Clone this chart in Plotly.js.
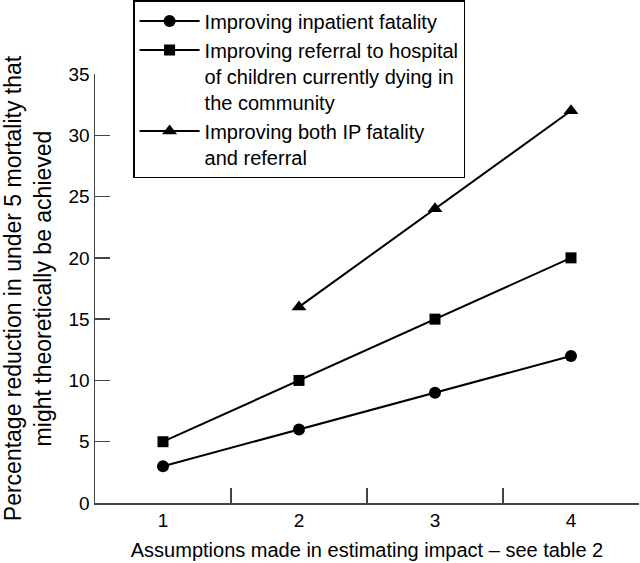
<!DOCTYPE html>
<html>
<head>
<meta charset="utf-8">
<script src="https://cdn.plot.ly/plotly-3.0.1.min.js"></script>
<style>html,body{margin:0;padding:0;background:#fff;}#chart{width:640px;height:563px;}</style>
</head>
<body>
<div id="chart"></div>
<script>
var categories = ['1', '2', '3', '4'];
var inpatientFatality = [3, 6, 9, 12];
var referral = [5, 10, 15, 20];
var bothCategories = ['2', '3', '4'];
var both = [16, 24, 32];
var seriesNames = [
  'Improving inpatient fatality',
  'Improving referral to hospital<br>of children currently dying in<br>the community',
  'Improving both IP fatality<br>and referral'
];
var yTickVals = [0, 5, 10, 15, 20, 25, 30, 35];

var family = 'Liberation Sans, Arial, sans-serif';
var font = {family: family, size: 20, color: '#000'};
var tickFont = {family: family, size: 19, color: '#000'};
var yTitleFont = {family: family, size: 23, color: '#000'};
var traces = [
  {x: categories, y: inpatientFatality, name: seriesNames[0], mode: 'lines+markers', type: 'scatter',
   line: {color: '#000', width: 2}, marker: {symbol: 'circle', size: 12, color: '#000'}},
  {x: categories, y: referral, name: seriesNames[1], mode: 'lines+markers', type: 'scatter',
   line: {color: '#000', width: 2}, marker: {symbol: 'square', size: 11, color: '#000'}},
  {x: bothCategories, y: both, name: seriesNames[2], mode: 'lines+markers', type: 'scatter',
   line: {color: '#000', width: 2}, marker: {symbol: 'triangle-up', size: 13, color: '#000'}}
];
var layout = {
  width: 640, height: 563,
  margin: {l: 95, r: 1, t: 73, b: 60},
  paper_bgcolor: '#fff', plot_bgcolor: '#fff',
  font: font,
  showlegend: true,
  legend: {x: 0.07, y: 1.17, xanchor: 'left', yanchor: 'top', bordercolor: '#000', borderwidth: 1.5,
           bgcolor: '#fff', font: font, itemwidth: 60, tracegroupgap: 0, valign: 'top'},
  xaxis: {type: 'category', categoryorder: 'array', categoryarray: categories, range: [-0.5, 3.5],
          tickson: 'boundaries', ticks: 'inside', ticklen: 15, tickcolor: '#444', tickwidth: 1.5,
          showline: true, linecolor: '#444', linewidth: 1.5, showgrid: false, zeroline: false,
          tickfont: tickFont,
          title: {text: 'Assumptions made in estimating impact \u2013 see table 2', font: font, standoff: 12}},
  yaxis: {range: [0, 35], tickvals: yTickVals, ticks: 'inside', ticklen: 15, tickcolor: '#444', tickwidth: 1.5,
          showline: true, linecolor: '#444', linewidth: 1.5, showgrid: false, zeroline: false,
          tickfont: tickFont,
          title: {text: 'Percentage reduction in under 5 mortality that<br>might theoretically be achieved', font: yTitleFont, standoff: 10}}
};
Plotly.newPlot('chart', traces, layout, {displayModeBar: false, staticPlot: true});
</script>
</body>
</html>
